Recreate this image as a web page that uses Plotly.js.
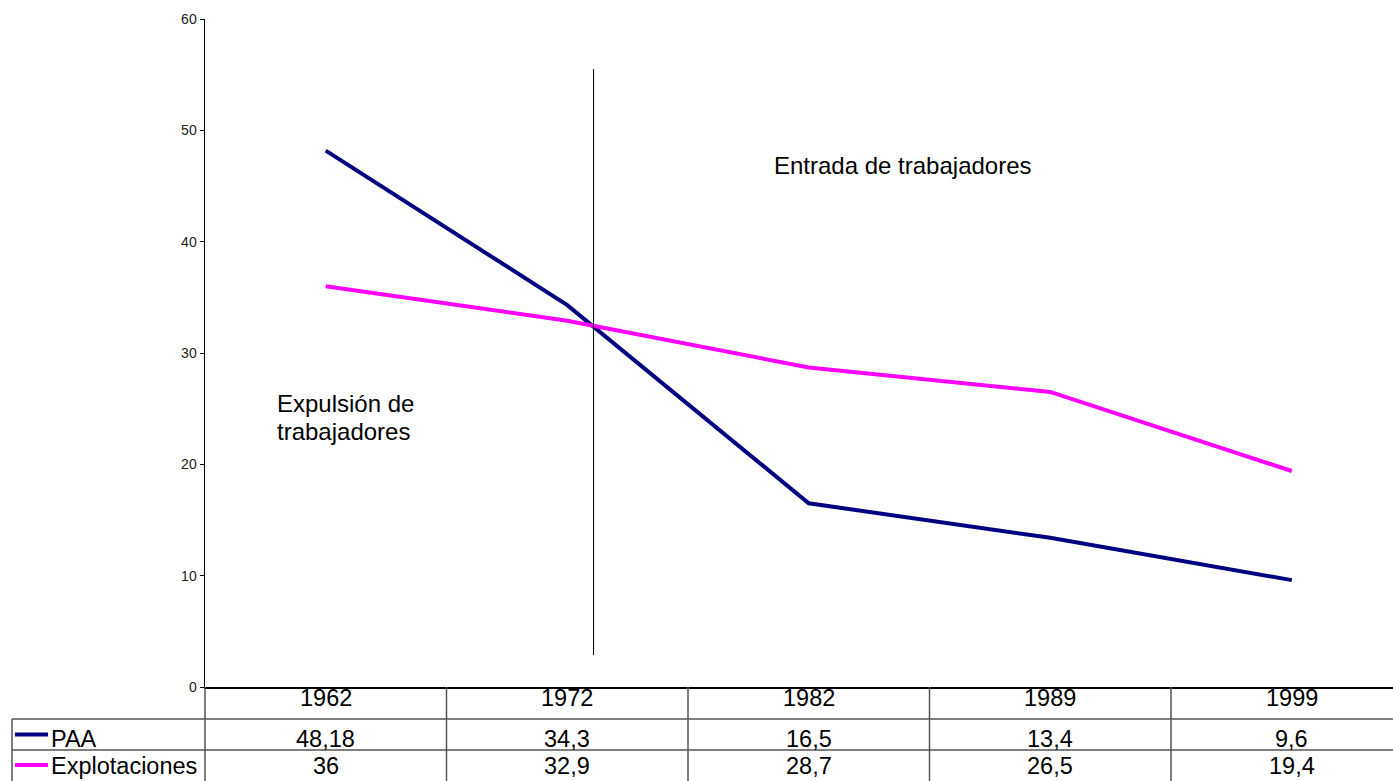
<!DOCTYPE html>
<html>
<head>
<meta charset="utf-8">
<script src="https://cdn.plot.ly/plotly-3.0.1.min.js"></script>
<style>
html,body{margin:0;padding:0;background:#fff;overflow:hidden;}
#chart{width:1393px;height:781px;}
</style>
</head>
<body>
<div id="chart"></div>
<script>
// ---- data ----
var categories = ['1962', '1972', '1982', '1989', '1999'];
var seriesNames = ['PAA', 'Explotaciones'];
var paaValues = [48.18, 34.3, 16.5, 13.4, 9.6];
var explotacionesValues = [36, 32.9, 28.7, 26.5, 19.4];
var paaLabels = ['48,18', '34,3', '16,5', '13,4', '9,6'];
var explotacionesLabels = ['36', '32,9', '28,7', '26,5', '19,4'];
var seriesColors = ['#000080', '#FF00FF'];
var yTicks = [0, 10, 20, 30, 40, 50, 60];

// ---- geometry ----
var W = 1393, H = 781;
var mL = 205, mR = 0, mT = 19, mB = 94;
var plotW = W - mL - mR, plotH = H - mT - mB;
var bandPx = 241.5;
var xMax = -0.5 + plotW / bandPx;
function px(p) { return (p - mL) / plotW; }
function py(p) { return (H - mB - p) / plotH; }

var FONT = 'Arial, "Liberation Sans", sans-serif';
var xIdx = categories.map(function (c, i) { return i; });

var traces = [
  { x: xIdx, y: paaValues, name: seriesNames[0], type: 'scatter', mode: 'lines',
    line: { color: seriesColors[0], width: 4 }, hoverinfo: 'y' },
  { x: xIdx, y: explotacionesValues, name: seriesNames[1], type: 'scatter', mode: 'lines',
    line: { color: seriesColors[1], width: 4 }, hoverinfo: 'y' }
];

var gridColor = '#555555';
var shapes = [];
// vertical divider line
shapes.push({ type: 'line', xref: 'x', yref: 'y', x0: 1.109, x1: 1.109, y0: 2.87, y1: 55.5,
  line: { color: '#000', width: 1 } });
// table column separators
var colBounds = [];
for (var i = 0; i < categories.length; i++) colBounds.push(i - 0.5);
colBounds.forEach(function (b, k) {
  shapes.push({ type: 'line', xref: k === 0 ? 'paper' : 'x', yref: 'paper',
    x0: k === 0 ? 0 : b, x1: k === 0 ? 0 : b, y0: 0, y1: py(H),
    line: { color: gridColor, width: 1.5 } });
});
// table horizontal rows
[719, 750].forEach(function (yy) {
  shapes.push({ type: 'line', xref: 'paper', yref: 'paper', x0: px(12), x1: 1, y0: py(yy), y1: py(yy),
    line: { color: gridColor, width: 1.5 } });
});
// left border
shapes.push({ type: 'line', xref: 'paper', yref: 'paper', x0: px(12), x1: px(12), y0: py(719), y1: py(H),
  line: { color: gridColor, width: 1.5 } });
// legend keys
var rowMid = [734.5, 765];
seriesNames.forEach(function (n, k) {
  shapes.push({ type: 'line', xref: 'paper', yref: 'paper', x0: px(15), x1: px(48), y0: py(rowMid[k]), y1: py(rowMid[k]),
    line: { color: seriesColors[k], width: 4 } });
});

var annotations = [];
var tFont = { family: FONT, size: 23.5, color: '#000' };
var rowY = [698, 739, 766];
categories.forEach(function (c, i) {
  annotations.push({ xref: 'x', yref: 'paper', x: i, y: py(rowY[0]), text: c, showarrow: false,
    xanchor: 'center', yanchor: 'middle', font: tFont });
  annotations.push({ xref: 'x', yref: 'paper', x: i, y: py(rowY[1]), text: paaLabels[i], showarrow: false,
    xanchor: 'center', yanchor: 'middle', font: tFont });
  annotations.push({ xref: 'x', yref: 'paper', x: i, y: py(rowY[2]), text: explotacionesLabels[i], showarrow: false,
    xanchor: 'center', yanchor: 'middle', font: tFont });
});
seriesNames.forEach(function (n, k) {
  annotations.push({ xref: 'paper', yref: 'paper', x: px(49), y: py(rowY[k + 1]), text: n, showarrow: false,
    xanchor: 'left', yanchor: 'middle', font: tFont });
});
var aFont = { family: FONT, size: 24, color: '#000' };
annotations.push({ xref: 'paper', yref: 'paper', x: px(902.7), y: py(165), text: 'Entrada de trabajadores',
  showarrow: false, xanchor: 'center', yanchor: 'middle', font: aFont });
annotations.push({ xref: 'paper', yref: 'paper', x: px(275), y: py(403), text: 'Expulsión de',
  showarrow: false, xanchor: 'left', yanchor: 'middle', font: aFont });
annotations.push({ xref: 'paper', yref: 'paper', x: px(275), y: py(431), text: 'trabajadores',
  showarrow: false, xanchor: 'left', yanchor: 'middle', font: aFont });

var layout = {
  width: W, height: H,
  margin: { l: mL, r: mR, t: mT, b: mB, pad: 0 },
  paper_bgcolor: '#fff', plot_bgcolor: '#fff',
  showlegend: false,
  font: { family: FONT, color: '#000' },
  xaxis: { range: [-0.5, xMax], showgrid: false, zeroline: false, showticklabels: false, ticks: '',
    showline: true, linecolor: '#000', linewidth: 1.5, fixedrange: true },
  yaxis: { range: [0, 60], tickvals: yTicks, ticktext: yTicks.map(String), showgrid: false, zeroline: false,
    ticks: 'outside', ticklen: 4, tickcolor: '#000', tickwidth: 1,
    showline: true, linecolor: '#000', linewidth: 1.5,
    tickfont: { family: FONT, size: 14, color: '#222' }, fixedrange: true },
  shapes: shapes,
  annotations: annotations
};

Plotly.newPlot('chart', traces, layout, { displayModeBar: false, staticPlot: true });
</script>
</body>
</html>
